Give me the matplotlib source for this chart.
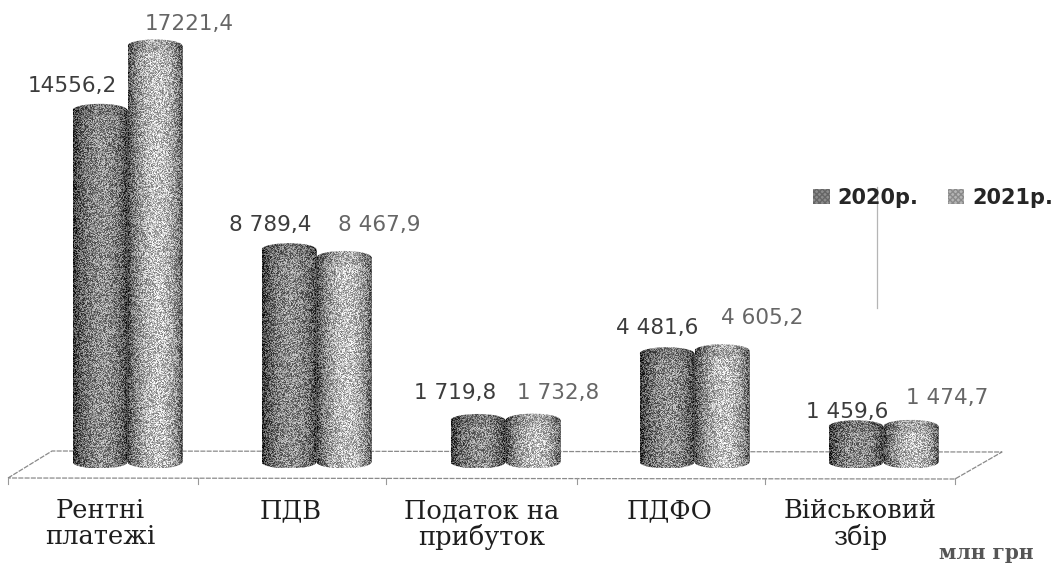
import numpy as np
import matplotlib
matplotlib.use("Agg")
import matplotlib.pyplot as plt
from matplotlib.patches import Patch, Ellipse, Polygon
from matplotlib.transforms import Affine2D

categories = ["Рентні\nплатежі", "ПДВ", "Податок на\nприбуток", "ПДФО", "Військовий\nзбір"]
series_names = ["2020р.", "2021р."]
values_2020 = [14556.2, 8789.4, 1719.8, 4481.6, 1459.6]
values_2021 = [17221.4, 8467.9, 1732.8, 4605.2, 1474.7]
labels_2020 = ["14556,2", "8 789,4", "1 719,8", "4 481,6", "1 459,6"]
labels_2021 = ["17221,4", "8 467,9", "1 732,8", "4 605,2", "1 474,7"]
unit_text = "млн грн"

W, H = 1061, 565
PX_PER_VALUE = 0.02416
BASE_Y, AXES_BOTTOM = 462, 480
GROUP_X0, GROUP_DX = 127.5, 189.0
BAR_W = 55 / GROUP_DX
ELL_PX = 6.5

fig = plt.figure(figsize=(W / 100, H / 100), dpi=100, facecolor="white")
ax = fig.add_axes([0, 1 - AXES_BOTTOM / H, 1, AXES_BOTTOM / H])
ax.set_xlim(-GROUP_X0 / GROUP_DX, (W - GROUP_X0) / GROUP_DX)
ax.set_ylim(-(AXES_BOTTOM - BASE_Y) / PX_PER_VALUE, BASE_Y / PX_PER_VALUE)
ax.patch.set_alpha(0)
for s in ax.spines.values():
    s.set_visible(False)
ax.set_yticks([])

# image-pixel coordinates, used for the floor and guide line only
pix = Affine2D().scale(1, -1).translate(0, H)


def stipple(w, h, sx, sy):
    """Deterministic speckle for the scanned look of the columns."""
    yy, xx = np.mgrid[0:h, 0:w]
    v = np.sin((xx + sx) * 12.9898 + (yy + sy) * 78.233) * 43758.5453
    return v - np.floor(v) - 0.5


def texture(w, h, peak, edge, sx, sy):
    t = np.linspace(0, 1, w)
    prof = edge + (peak - edge) * np.clip(np.sin(np.pi * t ** 1.15), 0, 1) ** 0.6
    return np.clip(prof[None, :] + 0.55 * stipple(w, h, sx, sy), 0.03, 1.0)


def cylinder(x, v, peak, edge, color, z, seed):
    eh = ELL_PX / PX_PER_VALUE
    r = BAR_W / 2
    ax.bar(x, v, BAR_W, color=color, linewidth=0, zorder=z)
    th = np.linspace(0, np.pi, 60)
    lower = np.column_stack([x - r * np.cos(th), -eh * np.sin(th)])
    upper = np.column_stack([x + r * np.cos(th), v + eh * np.sin(th)])
    poly = Polygon(np.vstack([lower, upper]), closed=True, fc="none", ec="none",
                   transform=ax.transData, zorder=z)
    ax.add_patch(poly)
    y0, y1 = -eh, v + eh
    h_px = int(round((y1 - y0) * PX_PER_VALUE))
    im = ax.imshow(texture(55, max(h_px, 2), peak, edge, seed * 17, seed * 31),
                   cmap="gray", vmin=0, vmax=1, aspect="auto",
                   extent=[x - r, x + r, y0, y1], interpolation="nearest", zorder=z + 0.1)
    im.set_clip_path(poly)
    ax.add_patch(Ellipse((x, v), BAR_W, 2 * eh, fc="black", alpha=0.1, ec="none", zorder=z + 0.2))


# floor
floor_kw = dict(transform=pix, color="#8a8a8a", lw=0.9, ls=(0, (4, 1)), zorder=1, clip_on=False)
ax.plot([8, 52, 1002, 955, 8], [478, 451, 452, 479, 478], **floor_kw)
for tx in [8, 198, 386, 577, 765, 955]:
    ax.plot([tx, tx], [478, 484], transform=pix, color="#999999", lw=0.8, zorder=1, clip_on=False)
# thin guide line under legend
ax.plot([877, 877], [187, 308], transform=pix, color="#b5b5b5", lw=0.9, zorder=1)

x = np.arange(len(categories))
off = BAR_W / 2
for i in x:
    cylinder(i - off, values_2020[i], 0.56, 0.2, "#777777", 3 + i * 0.01, 1 + i)
    cylinder(i + off, values_2021[i], 0.76, 0.28, "#999999", 4 + i * 0.01, 7 + i)

# value labels
offs_2020 = [(-28, 24), (-19, 25), (-23, 27), (-10, 26), (-9, 15)]
offs_2021 = [(34, 22), (35, 32), (25, 27), (40, 33), (36, 28)]
for i in x:
    ax.annotate(labels_2020[i], (i - off, values_2020[i]), xytext=offs_2020[i],
                textcoords="offset pixels", ha="center", va="center",
                fontsize=15.5, color="#3c3c3c", zorder=6, family="DejaVu Sans")
    ax.annotate(labels_2021[i], (i + off, values_2021[i]), xytext=offs_2021[i],
                textcoords="offset pixels", ha="center", va="center",
                fontsize=15.5, color="#666666", zorder=6, family="DejaVu Sans")

# category labels
tick_shift = np.array([-27, -26, -24, -25, -23]) / GROUP_DX
ax.set_xticks(x + tick_shift, categories, family="DejaVu Serif", fontsize=18.5, color="#1e1e1e",
              linespacing=1.05)
ax.tick_params(axis="x", length=0, pad=13)

handles = [Patch(fc="#8c8c8c", ec="#666666", hatch="xxxxxx", lw=0),
           Patch(fc="#b5b5b5", ec="#8a8a8a", hatch="xxxxxx", lw=0)]
leg = fig.legend(handles, series_names, loc="center left",
                 bbox_to_anchor=(813 / W, 1 - 198 / H), frameon=False, ncols=2,
                 prop=dict(family="DejaVu Sans", weight="bold", size=15),
                 handlelength=0.8, handleheight=0.7, handletextpad=0.38,
                 columnspacing=1.4, borderpad=0, borderaxespad=0)
for t in leg.get_texts():
    t.set_color("#262626")

fig.text(986 / W, 1 - 553 / H, unit_text, ha="center", va="center", family="DejaVu Serif",
         fontsize=14.5, fontweight="bold", color="#555555")

fig.savefig("out.png", dpi=100, facecolor="white")
